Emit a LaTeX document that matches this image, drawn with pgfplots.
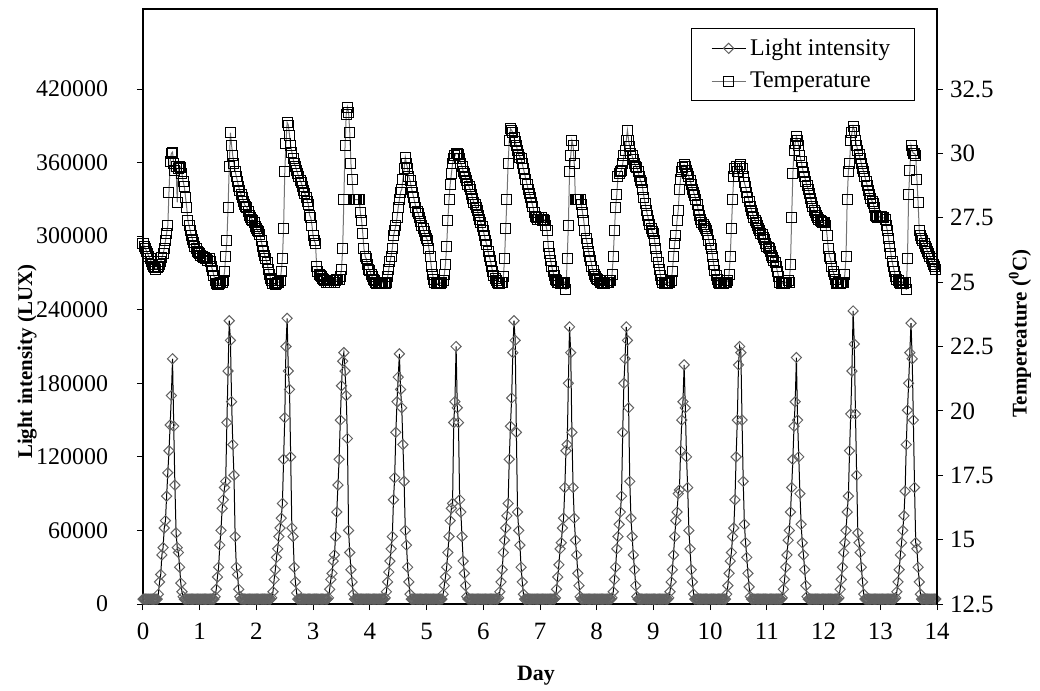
\documentclass[border=0pt]{standalone}
\usepackage{fontspec}
\setmainfont{Liberation Serif}
\usepackage{pgfplots}
\usepackage{pgfplotstable}
\pgfplotsset{compat=1.18}
\pgfplotsset{
  lightstyle/.style={black, line width=0.5bp, mark=square, mark size=1.8bp, mark options={rotate=45, draw=black!62, line width=0.5bp, solid}},
  tempstyle/.style={black!55, line width=0.5bp, mark=square, mark size=2.5bp, mark options={draw=black, line width=0.5bp, solid}},
}
\pgfplotstableread{
L T
4000 26.5
4000 26.4
4000 26.3
4000 26.2
4000 26.1
4000 26.0
4000 25.9
4000 25.8
4000 25.7
4000 25.6
4000 25.55
4000 25.5
4000 25.55
8000 25.6
18000 25.7
24000 25.8
40000 25.95
46000 26.1
62000 26.3
68000 26.6
88000 26.9
107000 27.2
125000 28.5
146000 29.7
170000 30.0
200000 30.05
145000 29.6
97000 29.35
58000 29.5
46000 28.1
42000 29.4
30000 29.5
17000 29.45
10000 29.2
6000 28.9
4000 28.7
4000 28.3
4000 27.9
4000 27.4
4000 27.2
4000 27.0
4000 26.8
4000 26.65
4000 26.55
4000 26.4
4000 26.3
4000 26.2
4000 26.15
4000 26.1
4000 26.05
4000 26.0
4000 25.95
4000 25.95
4000 25.9
4000 25.9
4000 25.85
4000 25.9
4000 25.8
4000 25.6
4000 25.45
4000 25.25
6000 25.05
12000 24.95
22000 24.9
30000 24.9
48000 24.95
60000 25.0
78000 25.0
85000 25.05
95000 25.4
100000 26.0
148000 26.6
190000 27.9
231000 29.5
215000 30.8
165000 30.3
130000 29.9
105000 29.6
55000 29.3
30000 29.1
24000 28.9
12000 28.7
6000 28.55
4000 28.4
4000 28.3
4000 28.15
4000 28.0
4000 27.95
4000 27.9
4000 27.75
4000 27.6
4000 27.5
4000 27.45
4000 27.4
4000 27.3
4000 27.15
4000 27.1
4000 27.0
4000 26.95
4000 26.85
4000 26.6
4000 26.4
4000 26.2
4000 26.05
4000 25.9
4000 25.75
4000 25.5
4000 25.3
4000 25.15
5000 25.05
10000 24.95
20000 24.95
28000 24.9
38000 24.95
45000 25.0
55000 25.0
62000 25.05
70000 25.4
82000 25.9
118000 27.1
152000 29.3
210000 30.4
233000 31.2
190000 31.1
175000 30.7
120000 30.3
62000 30.05
55000 29.8
30000 29.6
18000 29.5
9000 29.35
4000 29.2
4000 29.1
4000 28.95
4000 28.85
4000 28.7
4000 28.55
4000 28.45
4000 28.3
4000 28.15
4000 28.0
4000 27.6
4000 27.5
4000 27.2
4000 26.8
4000 26.6
4000 26.5
4000 25.6
4000 25.4
4000 25.3
4000 25.25
4000 25.2
4000 25.15
4000 25.1
4000 25.05
4000 25.0
4000 25.05
5000 25.0
12000 25.05
20000 25.0
25000 25.05
35000 25.05
40000 25.0
55000 25.05
75000 25.1
97000 25.1
118000 25.1
150000 25.2
178000 25.5
198000 26.3
205000 28.2
190000 30.3
170000 31.5
135000 31.8
60000 31.6
42000 30.8
28000 29.6
18000 29.0
8000 28.2
4000 28.2
4000 28.2
4000 28.2
4000 28.2
4000 28.2
4000 27.7
4000 27.4
4000 26.9
4000 26.3
4000 26.0
4000 25.9
4000 25.7
4000 25.5
4000 25.45
4000 25.3
4000 25.2
4000 25.1
4000 25.05
4000 25.0
4000 24.95
4000 24.95
4000 24.95
4000 25.0
4000 24.95
4000 25.0
4000 25.0
5000 24.95
10000 25.0
18000 25.2
26000 25.5
35000 25.8
45000 26.0
55000 26.3
85000 26.8
103000 27.0
140000 27.2
165000 27.5
185000 27.9
204000 28.2
175000 28.5
160000 28.6
130000 29.0
100000 29.4
60000 29.85
48000 29.6
30000 29.4
18000 29.1
8000 28.95
4000 28.7
4000 28.5
4000 28.3
4000 28.1
4000 27.9
4000 27.75
4000 27.65
4000 27.5
4000 27.35
4000 27.2
4000 27.1
4000 26.95
4000 26.8
4000 26.7
4000 26.6
4000 26.3
4000 26.0
4000 25.6
4000 25.3
4000 25.1
4000 25.0
4000 24.95
4000 24.95
4000 24.95
4000 25.0
4000 24.95
4000 25.0
8000 25.05
15000 25.3
22000 25.7
30000 26.4
42000 27.4
55000 28.2
68000 28.8
78000 29.2
82000 29.6
148000 29.8
165000 29.9
210000 30.0
160000 30.0
148000 29.95
85000 29.8
75000 29.6
55000 29.5
35000 29.3
25000 29.2
15000 29.05
6000 28.95
4000 28.8
4000 28.7
4000 28.6
4000 28.4
4000 28.25
4000 28.1
4000 28.0
4000 27.9
4000 27.8
4000 27.6
4000 27.45
4000 27.3
4000 27.15
4000 27.0
4000 26.8
4000 26.6
4000 26.45
4000 26.2
4000 26.0
4000 25.85
4000 25.6
4000 25.4
4000 25.25
4000 25.15
4000 25.05
4000 25.0
5000 24.95
10000 24.95
18000 25.0
28000 25.0
42000 25.2
52000 25.9
62000 27.1
72000 28.2
82000 29.6
118000 30.5
145000 30.95
168000 30.9
205000 30.8
231000 30.6
215000 30.45
140000 30.3
75000 30.1
60000 29.95
48000 29.85
30000 29.8
18000 29.6
8000 29.4
4000 29.2
4000 29.0
4000 28.8
4000 28.6
4000 28.45
4000 28.3
4000 28.1
4000 27.95
4000 27.7
4000 27.55
4000 27.5
4000 27.45
4000 27.5
4000 27.45
4000 27.5
4000 27.4
4000 27.45
4000 27.4
4000 27.2
4000 27.0
4000 26.4
4000 26.1
4000 25.85
4000 25.6
4000 25.4
4000 25.25
5000 25.1
12000 25.05
22000 25.0
32000 25.0
45000 24.95
50000 25.0
62000 25.0
70000 24.95
95000 25.0
125000 24.7
130000 25.9
180000 27.2
226000 29.3
205000 29.9
140000 30.5
95000 30.3
70000 29.6
52000 28.2
40000 28.2
25000 28.2
15000 28.2
6000 28.2
4000 28.0
4000 27.7
4000 27.4
4000 27.0
4000 26.7
4000 26.5
4000 26.2
4000 26.0
4000 25.85
4000 25.6
4000 25.45
4000 25.3
4000 25.2
4000 25.15
4000 25.1
4000 25.05
4000 25.0
4000 25.0
4000 24.95
4000 25.0
4000 24.95
4000 25.0
4000 25.0
4000 25.0
4000 25.05
4000 25.05
5000 25.3
10000 26.0
20000 27.0
30000 27.9
45000 28.4
55000 29.1
65000 29.2
75000 29.3
88000 29.35
140000 29.6
180000 29.9
200000 30.13
226000 30.5
215000 30.9
160000 30.5
100000 30.25
70000 30.0
55000 29.9
40000 29.75
28000 29.6
15000 29.5
6000 29.45
4000 29.3
4000 29.1
4000 28.95
4000 28.85
4000 28.6
4000 28.3
4000 28.05
4000 27.8
4000 27.6
4000 27.4
4000 27.25
4000 27.1
4000 26.95
4000 26.9
4000 26.6
4000 26.3
4000 26.0
4000 25.75
4000 25.5
4000 25.25
4000 25.1
4000 25.0
4000 24.95
4000 24.95
4000 25.0
4000 24.95
5000 25.0
10000 25.0
18000 25.05
28000 25.4
40000 26.0
55000 26.5
68000 26.8
75000 27.4
90000 27.8
93000 28.6
125000 29.0
150000 29.3
165000 29.45
195000 29.55
160000 29.5
120000 29.35
95000 29.2
60000 29.1
45000 28.95
28000 28.8
18000 28.6
8000 28.5
4000 28.35
4000 28.2
4000 28.0
4000 27.8
4000 27.6
4000 27.45
4000 27.3
4000 27.25
4000 27.15
4000 27.1
4000 27.0
4000 26.85
4000 26.6
4000 26.45
4000 26.3
4000 26.0
4000 25.7
4000 25.45
4000 25.25
4000 25.1
4000 25.0
4000 24.95
4000 24.95
4000 25.0
4000 24.95
4000 25.0
4000 25.0
8000 25.0
15000 25.05
25000 25.3
35000 26.0
42000 27.1
55000 28.2
62000 29.1
85000 29.4
120000 29.5
150000 29.3
195000 29.1
210000 29.5
205000 29.55
150000 29.4
100000 29.1
65000 28.85
50000 28.7
38000 28.5
25000 28.3
14000 28.15
6000 27.95
4000 27.8
4000 27.65
4000 27.5
4000 27.4
4000 27.3
4000 27.2
4000 27.1
4000 27.0
4000 26.9
4000 26.85
4000 26.75
4000 26.65
4000 26.5
4000 26.4
4000 26.35
4000 26.3
4000 26.2
4000 26.05
4000 25.95
4000 25.85
4000 25.75
4000 25.6
4000 25.4
4000 25.2
4000 25.0
4000 24.95
5000 24.95
12000 25.0
20000 24.95
30000 25.0
40000 25.0
52000 25.05
60000 25.0
75000 25.7
95000 27.5
118000 29.2
145000 30.1
165000 30.4
201000 30.65
150000 30.5
120000 30.3
90000 29.9
65000 29.7
50000 29.45
40000 29.25
28000 29.1
15000 28.9
6000 28.75
4000 28.6
4000 28.45
4000 28.25
4000 28.1
4000 27.95
4000 27.8
4000 27.7
4000 27.6
4000 27.5
4000 27.45
4000 27.4
4000 27.35
4000 27.3
4000 27.3
4000 27.3
4000 27.2
4000 26.8
4000 26.3
4000 26.0
4000 25.9
4000 25.6
4000 25.4
4000 25.3
4000 25.1
4000 24.95
4000 24.95
5000 25.0
12000 24.95
20000 25.0
30000 25.0
42000 25.0
50000 25.3
60000 26.0
75000 28.2
88000 29.3
125000 29.6
155000 30.5
190000 30.8
239000 31.05
212000 30.9
155000 30.5
105000 30.3
58000 30.1
50000 29.95
42000 29.8
30000 29.6
18000 29.4
8000 29.3
4000 29.1
4000 28.9
4000 28.75
4000 28.55
4000 28.4
4000 28.25
4000 28.15
4000 28.05
4000 27.9
4000 27.6
4000 27.55
4000 27.5
4000 27.55
4000 27.5
4000 27.55
4000 27.5
4000 27.5
4000 27.45
4000 27.2
4000 27.0
4000 26.7
4000 26.4
4000 26.1
4000 25.8
4000 25.6
4000 25.4
5000 25.2
10000 25.1
18000 25.05
28000 25.0
40000 24.95
50000 24.95
60000 25.0
72000 24.95
92000 25.0
130000 24.7
158000 25.9
180000 28.4
205000 29.35
229000 30.3
200000 30.1
150000 30.0
95000 30.0
50000 29.9
45000 29.0
30000 28.1
18000 27.0
8000 26.8
4000 26.7
4000 26.6
4000 26.5
4000 26.4
4000 26.3
4000 26.2
4000 26.1
4000 26.0
4000 25.9
4000 25.8
4000 25.7
4000 25.6
4000 25.5
}\datatable
\begin{document}
\begin{tikzpicture}
\useasboundingbox (-71.5bp,-43.5bp) rectangle (448.5bp,302bp);
\begin{axis}[
  at={(0,0)}, anchor=south west,
  scale only axis, width=397bp, height=297.5bp,
  xmin=0, xmax=14, ymin=0, ymax=485250,
  xtick={0,1,2,3,4,5,6,7,8,9,10,11,12,13,14},
  ytick={0,60000,120000,180000,240000,300000,360000,420000},
  xtick pos=bottom, ytick pos=left, tick align=outside,
  major tick length=3bp,
  scaled y ticks=false,
  /pgf/number format/assume math mode=true,
  yticklabel style={/pgf/number format/fixed, /pgf/number format/1000 sep={}, xshift=-11bp, font=\fontsize{12}{14}\selectfont},
  xticklabel style={yshift=-3bp, font=\fontsize{12.5}{14}\selectfont},
  tick style={black, line width=0.5bp},
  axis line style={line width=0.75bp},
  clip=false,
  xlabel={Day}, ylabel={Light intensity (LUX)},
  xlabel style={font=\fontsize{11}{13}\selectfont\bfseries, at={(axis description cs:0.495,-0.121)}, anchor=center},
  ylabel style={font=\fontsize{10.5}{12}\selectfont\bfseries, at={(axis description cs:-0.1460,0.407)}, anchor=center},
]
\addplot[lightstyle] table[x expr=\coordindex/48, y=L] {\datatable};
\end{axis}
\begin{axis}[
  at={(0,0)}, anchor=south west,
  scale only axis, width=397bp, height=297.5bp,
  xmin=0, xmax=14, ymin=12.5, ymax=35.607,
  axis x line=none, axis y line*=right,
  ytick={12.5,15,17.5,20,22.5,25,27.5,30,32.5},
  tick align=outside, major tick length=3bp,
  /pgf/number format/assume math mode=true,
  tick label style={font=\fontsize{12.5}{14}\selectfont},
  tick style={black, line width=0.5bp},
  axis line style={line width=0.75bp},
  ylabel={Tempereature (\textsuperscript{0}C)},
  ylabel style={font=\fontsize{10.5}{12}\selectfont\bfseries, at={(axis description cs:1.1045,0.455)}, anchor=center, rotate=0},
  legend style={at={(0.972,0.968)}, anchor=north east, draw=black, line width=0.5bp, font=\fontsize{12}{14}\selectfont, inner xsep=10bp, inner ysep=3bp, row sep=3bp},
  legend cell align=left,
]
\addlegendimage{lightstyle}
\addlegendentry{Light intensity}
\addplot[tempstyle] table[x expr=\coordindex/48, y=T] {\datatable};
\addlegendentry{Temperature}
\end{axis}
\end{tikzpicture}
\end{document}
